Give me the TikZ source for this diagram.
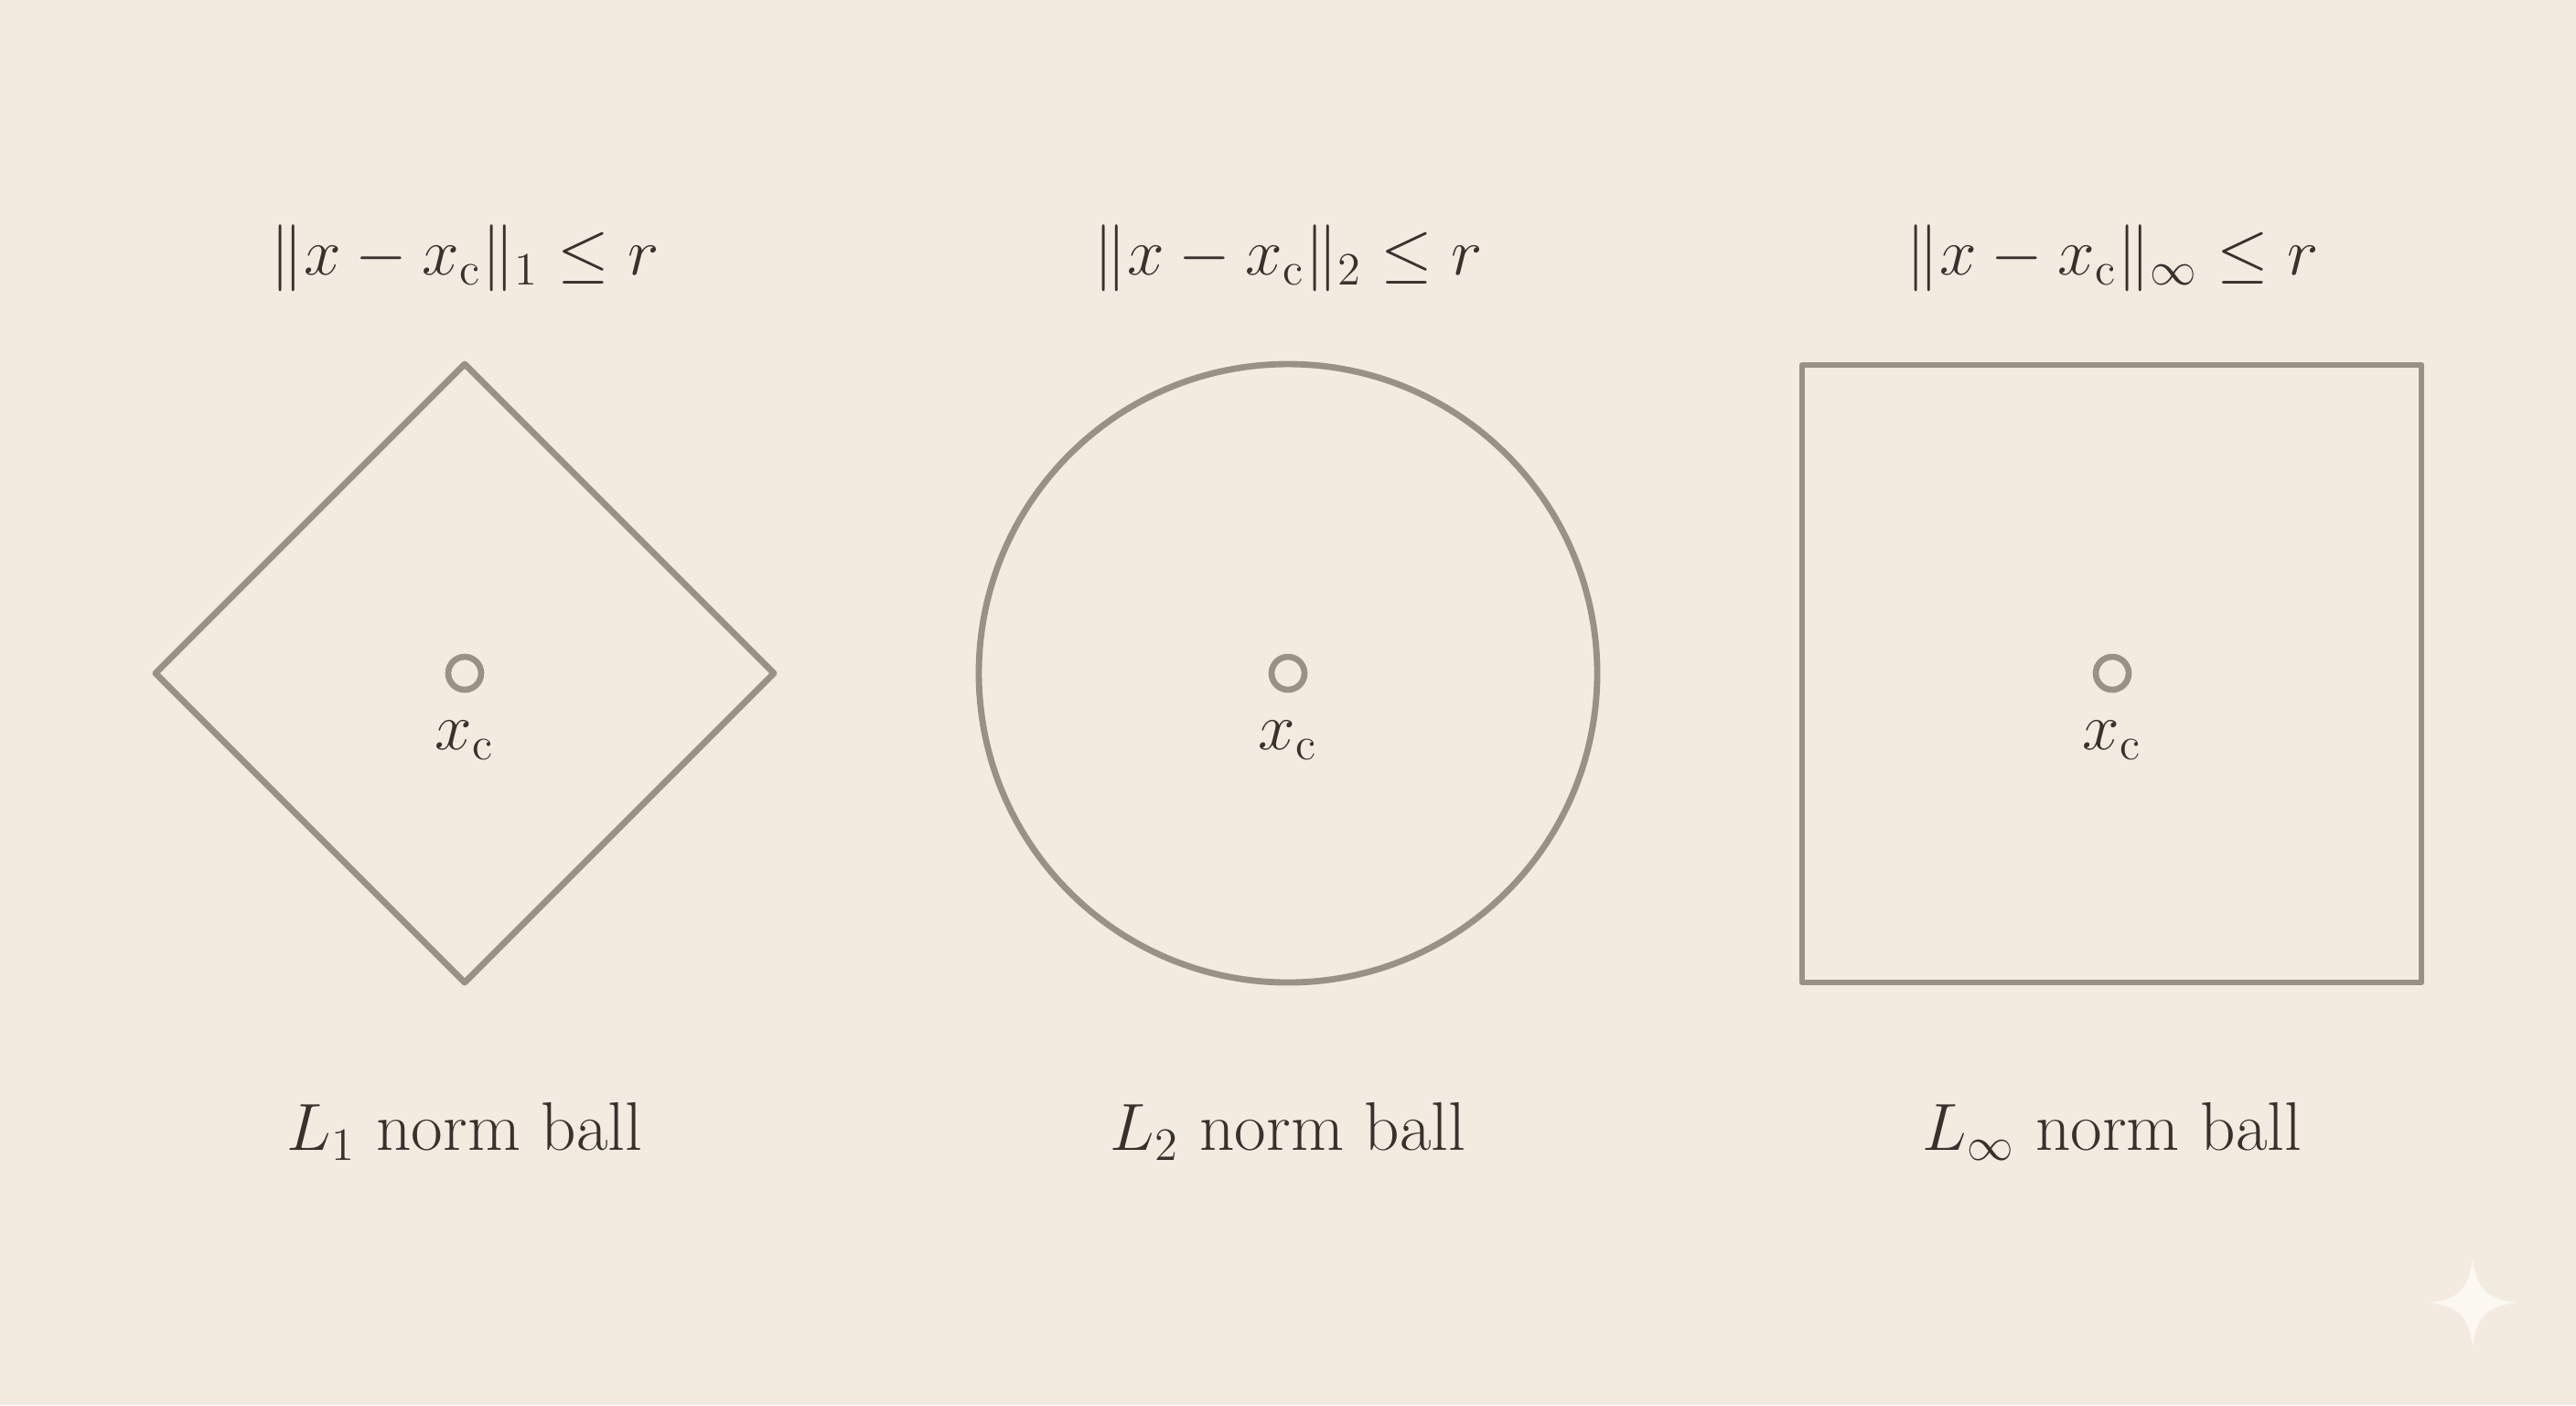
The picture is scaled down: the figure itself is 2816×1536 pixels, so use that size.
\documentclass[tikz,border=0pt]{standalone}
\usepackage{amsmath}
\definecolor{bg}{HTML}{F3EBE0}
\definecolor{shape}{HTML}{9A9186}
\definecolor{ink}{HTML}{37322D}
\definecolor{star}{HTML}{FBF8F2}
\begin{document}
\begin{tikzpicture}[x=0.1mm,y=-0.1mm,
  ballline/.style={draw=shape,line width=1.95pt,line join=round},
  centerdot/.style={circle,draw=shape,line width=1.9pt,minimum size=3.6mm,inner sep=0pt},
  formula/.style={text=ink,font=\fontsize{22.2}{26}\selectfont,inner sep=0pt},
  caption/.style={text=ink,font=\fontsize{21.4}{25}\selectfont,inner sep=0pt},
  clabel/.style={text=ink,font=\fontsize{22.5}{26}\selectfont,inner sep=0pt}]
\fill[bg] (0,0) rectangle (2816,1536);
\useasboundingbox (0,0) rectangle (2816,1536);
% L1 diamond
\coordinate (c1) at (508,736);
\draw[ballline] (508,398) -- (846,736) -- (508,1074) -- (170,736) -- cycle;
\node[centerdot] (d1) at (c1) {};
\node[clabel] (x1) at (508,809) {$x_{\mathrm{c}}$};
\node[formula] (f1) at (508,282) {$\|x - x_{\mathrm{c}}\|_1 \le r$};
\node[caption] (l1) at (508,1237) {$L_1$ norm ball};
% L2 circle
\coordinate (c2) at (1408,736);
\draw[ballline] (c2) circle (33.8mm);
\node[centerdot] (d2) at (c2) {};
\node[clabel] (x2) at (1408,809) {$x_{\mathrm{c}}$};
\node[formula] (f2) at (1408,282) {$\|x - x_{\mathrm{c}}\|_2 \le r$};
\node[caption] (l2) at (1408,1237) {$L_2$ norm ball};
% Linf square
\coordinate (c3) at (2309,736);
\draw[ballline] (1970,399) rectangle (2647,1074);
\node[centerdot] (d3) at (c3) {};
\node[clabel] (x3) at (2309,809) {$x_{\mathrm{c}}$};
\node[formula] (f3) at (2309,282) {$\|x - x_{\mathrm{c}}\|_\infty \le r$};
\node[caption] (l3) at (2309,1237) {$L_\infty$ norm ball};
% sparkle
\fill[star] (2703,1376) .. controls (2708,1410) and (2718,1420) .. (2752,1424)
  .. controls (2718,1428) and (2708,1438) .. (2703,1472)
  .. controls (2698,1438) and (2688,1428) .. (2656,1424)
  .. controls (2688,1420) and (2698,1410) .. (2703,1376) -- cycle;
\end{tikzpicture}
\end{document}
